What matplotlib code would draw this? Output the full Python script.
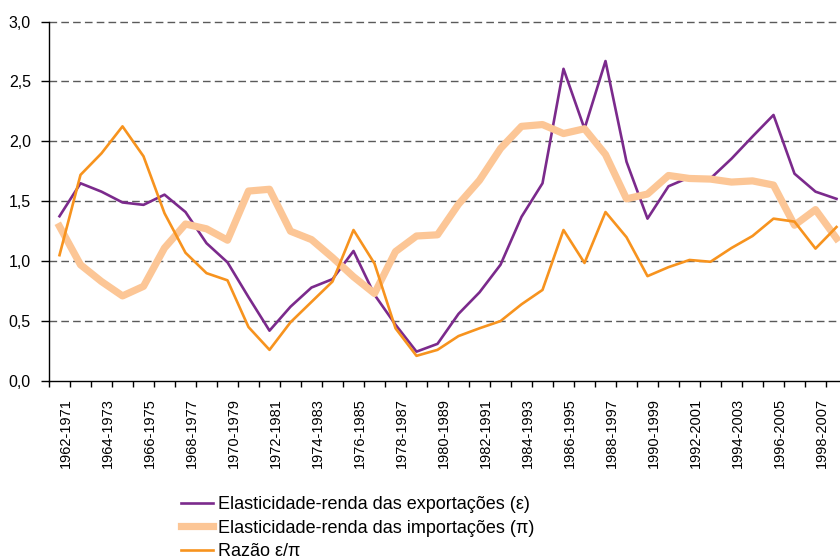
import matplotlib
matplotlib.use("Agg")
import matplotlib.pyplot as plt
import matplotlib.transforms as mtransforms
import numpy as np

# Rolling 10-year windows, 1962-1971 ... 1999-2008
start_years = list(range(1962, 2000))
categories = [f"{y}-{y + 9}" for y in start_years]

exports = [1.375, 1.65, 1.58, 1.49, 1.47, 1.555, 1.41, 1.15, 0.99, 0.70,
           0.42, 0.62, 0.78, 0.85, 1.085, 0.72, 0.47, 0.245, 0.31, 0.56,
           0.74, 0.97, 1.37, 1.65, 2.605, 2.105, 2.67, 1.83, 1.355, 1.625,
           1.70, 1.69, 1.855, 2.04, 2.22, 1.73, 1.58, 1.52]

imports = [1.29, 0.97, 0.83, 0.71, 0.79, 1.11, 1.31, 1.27, 1.175, 1.585,
           1.60, 1.25, 1.18, 1.03, 0.87, 0.73, 1.08, 1.21, 1.22, 1.475,
           1.675, 1.94, 2.125, 2.14, 2.065, 2.105, 1.89, 1.52, 1.56, 1.715,
           1.69, 1.685, 1.66, 1.67, 1.635, 1.30, 1.43, 1.19]

ratio = [1.05, 1.72, 1.90, 2.125, 1.875, 1.40, 1.07, 0.90, 0.84, 0.45,
         0.26, 0.49, 0.66, 0.83, 1.26, 0.98, 0.44, 0.21, 0.26, 0.375,
         0.44, 0.50, 0.64, 0.76, 1.26, 0.985, 1.41, 1.20, 0.875, 0.95,
         1.01, 0.995, 1.11, 1.21, 1.355, 1.33, 1.105, 1.285]

labels = [
    "Elasticidade-renda das exportações (ε)",
    "Elasticidade-renda das importações (π)",
    "Razão ε/π",
]

PURPLE = "#7B2A8C"
LIGHT_ORANGE = "#FCC696"
ORANGE = "#F7931E"

plt.rcParams["font.family"] = ["Liberation Sans", "DejaVu Sans"]

fig = plt.figure(figsize=(8.4, 5.6), dpi=100)
ax = fig.add_axes([49 / 840, 1 - 381 / 560, 798 / 840, 359.5 / 560])

x = np.arange(len(categories))
l1, = ax.plot(x, exports, color=PURPLE, linewidth=1.9, zorder=3)
l2, = ax.plot(x, imports, color=LIGHT_ORANGE, linewidth=5.2, zorder=4)
l3, = ax.plot(x, ratio, color=ORANGE, linewidth=1.9, zorder=5)

ax.set_xlim(-0.5, len(categories) - 0.5)
ax.set_ylim(0, 3.0)

# y axis
yticks = np.arange(0, 3.01, 0.5)
ax.set_yticks(yticks)
ax.set_yticklabels([f"{v:.1f}".replace(".", ",") for v in yticks], fontsize=11.5)
ax.tick_params(axis="y", length=6, width=1, pad=7)
for v in yticks[1:]:
    ax.axhline(v, color="#5a5a5a", linestyle=(0, (5.5, 3)), linewidth=1.0,
               zorder=1, clip_on=False)

# x axis: ticks at category boundaries, labels on every other category
ax.set_xticks(np.arange(-0.5, len(categories), 1.0), minor=True)
ax.set_xticks(x[::2])
ax.set_xticklabels(categories[::2], rotation=90, fontsize=10.5)
ax.tick_params(axis="x", which="major", length=0, pad=12)
ax.tick_params(axis="x", which="minor", length=4, width=1)
offset = mtransforms.ScaledTranslation(0.06, 0, fig.dpi_scale_trans)
for lab in ax.get_xticklabels():
    lab.set_transform(lab.get_transform() + offset)

for side in ("top", "right"):
    ax.spines[side].set_visible(False)
for side in ("left", "bottom"):
    ax.spines[side].set_color("black")
    ax.spines[side].set_linewidth(1.0)

fig.legend([l1, l2, l3], labels, loc="upper left",
           bbox_to_anchor=(172 / 840, 1 - 487 / 560), frameon=False,
           fontsize=13, handlelength=1.75, handletextpad=0.3,
           labelspacing=0.36, borderpad=0)

fig.savefig("out.png", dpi=100)
